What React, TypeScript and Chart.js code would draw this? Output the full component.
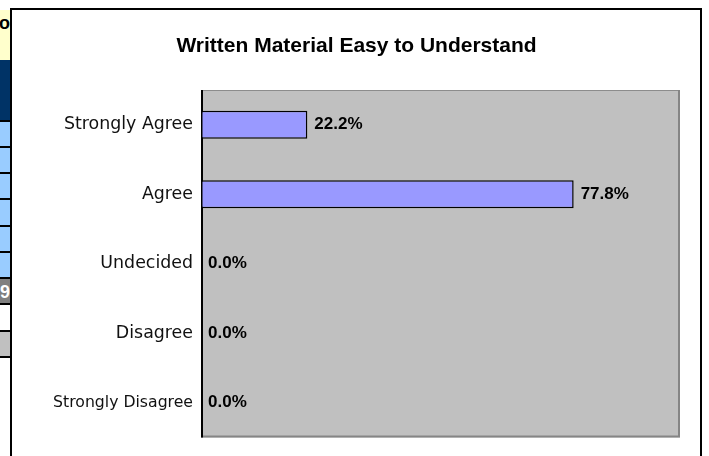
import React, { useEffect, useRef } from "react";
import { Chart, registerables } from "chart.js";

Chart.register(...registerables);

const chartTitle = "Written Material Easy to Understand";
const categories = ["Strongly Agree", "Agree", "Undecided", "Disagree", "Strongly Disagree"];
const shares = [0.222, 0.778, 0.0, 0.0, 0.0];
const axisMin = 0;
const axisMax = 1;

const stripCells = [
  { top: 10, height: 50, bg: "#FFFFCC", text: "o", color: "#000" },
  { top: 60, height: 62, bg: "#003366", text: "", color: "#fff" },
  { top: 122, height: 26, bg: "#99CCFF", text: "", color: "#000" },
  { top: 148, height: 26, bg: "#99CCFF", text: "", color: "#000" },
  { top: 174, height: 26, bg: "#99CCFF", text: "", color: "#000" },
  { top: 200, height: 27, bg: "#99CCFF", text: "", color: "#000" },
  { top: 227, height: 26, bg: "#99CCFF", text: "", color: "#000" },
  { top: 253, height: 26, bg: "#99CCFF", text: "", color: "#000" },
  { top: 279, height: 26, bg: "#808080", text: "9", color: "#fff" },
  { top: 305, height: 27, bg: "#FFFFFF", text: "", color: "#000" },
  { top: 332, height: 26, bg: "#C0C0C0", text: "", color: "#000" },
];

const plotPlugin = {
  id: "plotDecor",
  beforeDatasetsDraw(chart: any) {
    const { ctx, chartArea } = chart;
    const { left, right, top, bottom } = chartArea;
    ctx.save();
    ctx.fillStyle = "#C0C0C0";
    ctx.fillRect(left, top, right - left, bottom - top);
    ctx.strokeStyle = "#8c8c8c";
    ctx.lineWidth = 1;
    ctx.beginPath();
    ctx.moveTo(left, top + 0.5);
    ctx.lineTo(right, top + 0.5);
    ctx.stroke();
    ctx.strokeStyle = "#858585";
    ctx.lineWidth = 2;
    ctx.beginPath();
    ctx.moveTo(right - 1, top);
    ctx.lineTo(right - 1, bottom);
    ctx.moveTo(left, bottom - 1);
    ctx.lineTo(right, bottom - 1);
    ctx.stroke();
    ctx.strokeStyle = "#000";
    ctx.lineWidth = 2;
    ctx.beginPath();
    ctx.moveTo(left + 1, top);
    ctx.lineTo(left + 1, bottom);
    ctx.stroke();
    ctx.restore();
  },
  afterDatasetsDraw(chart: any) {
    const { ctx } = chart;
    const meta = chart.getDatasetMeta(0);
    const data = chart.data.datasets[0].data as number[];
    ctx.save();
    ctx.font = "bold 17px 'Liberation Sans', Arial, sans-serif";
    ctx.fillStyle = "#000";
    ctx.textAlign = "left";
    ctx.textBaseline = "middle";
    meta.data.forEach((bar: any, i: number) => {
      const txt = (data[i] * 100).toFixed(1) + "%";
      ctx.fillText(txt, bar.x + 7, bar.y);
    });
    ctx.restore();
  },
};

export default function App() {
  const canvasRef = useRef<HTMLCanvasElement | null>(null);

  useEffect(() => {
    if (!canvasRef.current) return;
    const chart = new Chart(canvasRef.current, {
      type: "bar",
      data: {
        labels: categories,
        datasets: [
          {
            data: shares,
            backgroundColor: "#9999FF",
            borderColor: "#000000",
            borderWidth: 1.5,
            borderSkipped: false,
            categoryPercentage: 0.8,
            barPercentage: 0.5,
          },
        ],
      },
      options: {
        indexAxis: "y",
        responsive: false,
        animation: false,
        layout: { padding: { left: 21, right: 20, top: 0, bottom: 18 } },
        scales: {
          x: { min: axisMin, max: axisMax, display: false },
          y: {
            grid: { display: false, drawTicks: false },
            border: { display: false },
            ticks: {
              padding: 8,
              color: "#111",
              font: (c: any) => ({
                family: "'DejaVu Sans', sans-serif",
                size: c.index === 4 ? 15.7 : 17.4,
              }),
            },
            afterFit: (s: any) => {
              s.width = 168;
            },
          },
        },
        plugins: {
          legend: { display: false },
          tooltip: { enabled: false },
          title: {
            display: true,
            text: chartTitle,
            color: "#000",
            font: { family: "'Liberation Sans', Arial, sans-serif", size: 21, weight: "bold" },
            padding: { top: 23.4, bottom: 31.4 },
          },
        },
      },
      plugins: [plotPlugin],
    } as any);
    return () => chart.destroy();
  }, []);

  return (
    <div
      style={{
        position: "fixed",
        left: 0,
        top: 0,
        width: 709,
        height: 456,
        overflow: "hidden",
        background: "#fff",
      }}
    >
      {stripCells.map((c, i) => (
        <div
          key={i}
          style={{
            position: "absolute",
            left: 0,
            top: c.top,
            width: 10,
            height: c.height,
            background: c.bg,
            borderBottom: i === 0 ? "none" : "2px solid #000",
            boxSizing: "border-box",
            overflow: "hidden",
            color: c.color,
            fontFamily: "'Liberation Sans', Arial, sans-serif",
            fontWeight: "bold",
            fontSize: 18,
            lineHeight: "26px",
            textAlign: "right",
            whiteSpace: "nowrap",
            direction: "rtl",
          }}
        >
          {c.text}
        </div>
      ))}
      <div
        style={{
          position: "absolute",
          left: 10,
          top: 8,
          width: 688,
          height: 460,
          border: "2px solid #000",
          background: "#fff",
        }}
      >
        <canvas
          ref={canvasRef}
          width={688}
          height={446}
          style={{ position: "absolute", left: 0, top: 0, width: 688, height: 446 }}
        />
      </div>
    </div>
  );
}
